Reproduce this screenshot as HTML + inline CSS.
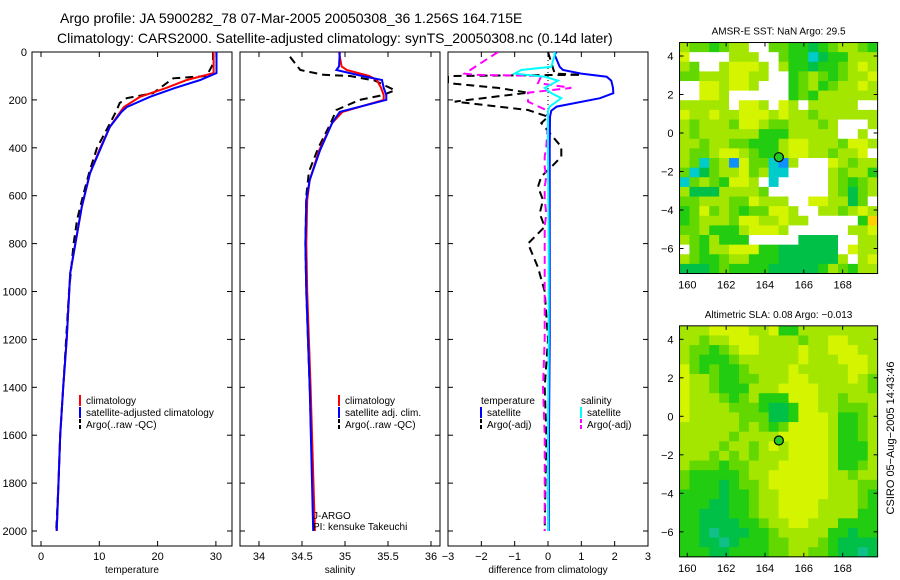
<!DOCTYPE html>
<html><head><meta charset="utf-8"><style>
html,body{margin:0;padding:0;background:#fff;width:900px;height:580px;overflow:hidden}
svg{display:block;font-family:"Liberation Sans",sans-serif}
</style></head><body>
<svg id="fig" width="900" height="580" xmlns="http://www.w3.org/2000/svg">
<text x="60" y="23" font-size="14" text-anchor="start">Argo profile: JA 5900282_78 07-Mar-2005 20050308_36 1.256S 164.715E</text>
<text x="57" y="43" font-size="14" text-anchor="start">Climatology: CARS2000. Satellite-adjusted climatology: synTS_20050308.nc (0.14d later)</text>
<g id="g"></g>
</svg>
<script>
// ---- data ----
const tDepth = [0,50,88,117,150,187,230,250,313,410,506,646,924,1200,1400,1600,1800,2000];
const tClim  = [29.6,29.6,29.6,25.0,21.5,17.0,14.2,13.6,11.8,10.0,8.4,7.0,5.0,4.4,3.8,3.3,3.0,2.7];
const tSat   = [30.1,30.1,30.1,27.3,23.0,18.7,14.7,13.8,11.8,10.1,8.4,7.0,5.0,4.4,3.8,3.3,3.0,2.7];
const aDepthT = [0,50,100,110,140,172,193,213,242,300,400,500,600,700,800,1000,1200,1400,1600,1800,2000];
const tArgo  = [29.5,29.5,28.4,22.7,21.0,19.2,14.7,13.5,13.0,11.8,9.6,8.3,7.2,6.2,5.6,4.8,4.3,3.8,3.3,3.0,2.6];

const sDepth = [0,60,75,100,117,150,180,200,250,297,410,535,618,800,1000,1400,2000];
const sClim  = [34.93,34.96,35.02,35.28,35.37,35.42,35.45,35.45,34.97,34.85,34.70,34.59,34.56,34.55,34.56,34.60,34.65];
const sSat   = [34.94,34.93,34.90,35.20,35.43,35.45,35.48,35.48,34.94,34.85,34.71,34.59,34.55,34.54,34.55,34.59,34.63];
const aDepthS = [20,75,95,100,120,160,180,200,242,300,400,500,600,800,1000,1400,2000];
const sArgo  = [34.36,34.48,34.75,35.06,35.35,35.58,35.44,35.17,34.90,34.83,34.69,34.58,34.55,34.54,34.55,34.59,34.64];

const dDepth = [0,12,62,75,90,103,120,150,172,193,228,245,270,400,800,1200,1600,2000];
const dTSat  = [0.25,0.2,0.35,0.45,1.0,1.76,1.9,1.95,1.96,1.56,0.26,0.1,0.06,0.05,0.05,0.05,0.03,0.02];
const dSSat  = [0.2,0.2,0.1,-0.8,-1.0,-0.1,0.3,-0.1,0.1,0.4,0.05,0.0,0.0,0.0,0.02,0.02,0.0,0.0];
const aDepthD = [0,90,95,100,130,150,170,207,242,270,297,396,437,480,520,563,618,674,730,800,900,1000,1200,1400,1600,2000];
const dTArgo = [0,0.2,1.0,-3.0,-3.0,-1.5,-0.6,-2.8,-0.6,0.0,-0.2,0.4,0.4,0.1,-0.2,-0.3,-0.15,-0.25,-0.1,-0.6,-0.3,-0.1,0.0,-0.1,-0.05,-0.1];
const dSArgo = [-1.5,-2.5,-2.2,-0.2,-0.3,0.7,-0.6,-0.6,-0.06,0.0,0.0,-0.05,-0.1,-0.1,-0.05,-0.1,-0.1,-0.05,-0.1,-0.1,-0.1,-0.1,-0.1,-0.15,-0.1,-0.1];

const depthTicks = [0,200,400,600,800,1000,1200,1400,1600,1800,2000];
const tTicks = [0,10,20,30];
const sTicks = [34,34.5,35,35.5,36];
const sTickLabels = ["34","34.5","35","35.5","36"];
const dTicks = [-3,-2,-1,0,1,2,3];
const dTickLabels = ["\u22123","\u22122","\u22121","0","1","2","3"];
const lonTicks = [160,162,164,166,168];
const latTicks = [4,2,0,-2,-4,-6];
const latTickLabels = ["4","2","0","\u22122","\u22124","\u22126"];
const argoLon = 164.715, argoLat = -1.256;

const sstGrid = [
"lggGgllwwggGGdGgllgG","ywwwwlllwwgGGcdGGlll","lgwwlyyylwlGGdGGglyl","gglllyyllwwGglgGglly",
"wwyylyylwwwGglGgllyl","wwyylwwwwwwGgGllllll","lllllwyylwylwlllllww","yllyllyyylyllgllllll",
"lglllgyylgglllglwwwl","lgllllllGGGlllllwwlw","llgllggGGGlyylllgyyl","lgglyylgGGlyyllgllyw",
"lgcglbyggcblwwwylgll","gcdgllyglccwwwwlgllG","cglgGyylwcwwwwwlgGgl","ldddllllgwwwwwwlgdgl",
"gglllggylllwwyylldgw","GgyglgGggyylwwllglyl","GglllgyyllyllwwwwwGo","gglGGGlyyylwwwwwwlly",
"lgGlGGGwwwwwddddwwll","wgGllyyyGGddddddwyll","lgGGgllGGGddddddlwly","dddGgGGGGdddddGlgGll"];
const slaGrid = [
"lllyyyyllyGGllllllll","llgllyyyllllgllyylll","lggGglyyllllyllyyyll","lgGGGgllllllylllyyyl",
"ygGgGGgllllylllllyyl","yllgGGgglllyyllllylg","yllgGGGlllyyyylllllg","ylllgGglGGGyyyllglll",
"yllllgggGddGyyllgggl","ylllllgggddGyyylGGgl","llllllglgGgyyyylGGgl","lllllgllllyyyyylGGgl",
"llllgllglylyyyylGGGl","lllglglglllyyyylGGGl","lgggGgglllyyyyylGGgl","gGGGGGgllyyyyyyllgll",
"gGGGdGgglyyyyyylllgg","GGGGdGGgllyyyyylllgG","GGGddGGgllyyyyllllgG","GGdddGGgllyyyyllllGG",
"GGddddGGgllyylllGGGG","GGdtdddGGglllllGGdGG","GGddtdGGGgglllgGdddd","GGGddGGGGggllggGddtd"];
const palette = {w:"#ffffff",y:"#d4f400",l:"#a4e600",g:"#62d800",G:"#22cc10",d:"#00c048",t:"#10c088",c:"#00cccc",b:"#1090ff",o:"#ffd000"};

// ---- drawing ----
const NS="http://www.w3.org/2000/svg", G=document.getElementById('g');
function el(tag,attrs,parent){const e=document.createElementNS(NS,tag);for(const k in attrs)e.setAttribute(k,attrs[k]);(parent||G).appendChild(e);return e;}
function txt(x,y,s,size,anchor,parent){const t=el('text',{x:x,y:y,'font-size':size,'text-anchor':anchor||'middle'},parent);t.textContent=s;return t;}

const Y = d => 52 + d*0.2395;
const pTop=52, pBot=546;
function panel(name,x0,x1,xs,ticks,labels,xlabel){
  const g=el('g',{});
  
  
  el('rect',{x:x0,y:pTop,width:x1-x0,height:pBot-pTop,fill:'none',stroke:'#000','stroke-width':1},g);
  ticks.forEach((v,i)=>{const x=xs(v);
    el('line',{x1:x,x2:x,y1:pBot,y2:pBot-5,stroke:'#000'},g);
    el('line',{x1:x,x2:x,y1:pTop,y2:pTop+5,stroke:'#000'},g);
    const t=txt(x,560,labels[i],11,'middle',g);
    
    });
  depthTicks.forEach(d=>{el('line',{x1:x0,x2:x0+5,y1:Y(d),y2:Y(d),stroke:'#000'},g);
    el('line',{x1:x1,x2:x1-5,y1:Y(d),y2:Y(d),stroke:'#000'},g);});
  const xl=txt((x0+x1)/2,573,xlabel,10,'middle',g);
  
  
  return g;
}
function line(xs,vals,depths,color,dash,name,g){
  const pts=vals.map((v,i)=>xs(v).toFixed(1)+','+Y(depths[i]).toFixed(1)).join(' ');
  const p=el('polyline',{points:pts,fill:'none',stroke:color,'stroke-width':2,'stroke-dasharray':dash||'none'},g);
  
  
}
function clipFor(id,x0,x1){const c=el('clipPath',{id:id});el('rect',{x:x0,y:pTop,width:x1-x0,height:pBot-pTop},c);return 'url(#'+id+')';}

depthTicks.forEach(d=>{const t=txt(27,Y(d)+4,String(d),11,'end');
  
  });

// Panel 1
const xT=v=>41+v*5.83;
const p1=panel('temperature-panel',32,232,xT,tTicks,tTicks.map(String),'temperature');
const g1=el('g',{'clip-path':clipFor('c1',32,232)},p1);
line(xT,tArgo,aDepthT,'#000','8,5','argo-temperature-line',g1);
line(xT,tClim,tDepth,'#f00',null,'climatology-temperature-line',g1);
line(xT,tSat,tDepth,'#00f',null,'satellite-temperature-line',g1);

// Panel 2
const xS=v=>259+(v-34)*86;
const p2=panel('salinity-panel',240,440,xS,sTicks,sTickLabels,'salinity');
const g2=el('g',{'clip-path':clipFor('c2',240,440)},p2);
line(xS,sArgo,aDepthS,'#000','8,5','argo-salinity-line',g2);
line(xS,sClim,sDepth,'#f00',null,'climatology-salinity-line',g2);
line(xS,sSat,sDepth,'#00f',null,'satellite-salinity-line',g2);

// Panel 3
const xD=v=>548+v*33.33;
const p3=panel('difference-panel',448,648,xD,dTicks,dTickLabels,'difference from climatology');
const g3=el('g',{'clip-path':clipFor('c3',448,648)},p3);
el('line',{x1:548,x2:548,y1:pTop,y2:120,stroke:'#000','stroke-dasharray':'1,3'},g3);
line(xD,dTArgo,aDepthD,'#000','8,5','argo-temperature-diff-line',g3);
line(xD,dSArgo,aDepthD,'#f0f','8,5','argo-salinity-diff-line',g3);
line(xD,dTSat,dDepth,'#00f',null,'satellite-temperature-diff-line',g3);
line(xD,dSSat,dDepth,'#0ff',null,'satellite-salinity-diff-line',g3);

function legend(x,y,items,name){const g=el('g',{});
  
  
  items.forEach((it,i)=>{const yy=y+i*12;
    if(it[1]) el('line',{x1:x,x2:x,y1:yy-9,y2:yy+2,stroke:it[1],'stroke-width':2,'stroke-dasharray':it[2]?'4,2':'none'},g);
    txt(x+(it[1]?6:0),yy,it[0],10,'start',g);});}
legend(80,404,[["climatology","#f00"],["satellite-adjusted climatology","#00f"],["Argo(..raw -QC)","#000",1]],'temperature-legend');
legend(339,404,[["climatology","#f00"],["satellite adj. clim.","#00f"],["Argo(..raw -QC)","#000",1]],'salinity-legend');
legend(481,404,[["temperature",null],["satellite","#00f"],["Argo(-adj)","#000",1]],'temp-diff-legend');
legend(581,404,[["salinity",null],["satellite","#0ff"],["Argo(-adj)","#f0f",1]],'sal-diff-legend');
const pi=el('g',{});


txt(313,519,'J-ARGO',10,'start',pi); txt(313,530,'PI: kensuke Takeuchi',10,'start',pi);

function drawMap(name,grid,title,lat4y){
  const g=el('g',{});
  
  
  const lx=v=>687.3+(v-160)*19.42, ly=v=>lat4y-(v-4)*19.25;
  const x0=lx(159.6), x1=lx(169.8), y0=ly(4.7), y1=ly(-7.3);
  const rows=grid.length, cols=grid[0].length, cw=(x1-x0)/cols, ch=(y1-y0)/rows;
  grid.forEach((r,i)=>{for(let j=0;j<cols;j++){
    const c=el('rect',{x:(x0+j*cw).toFixed(2),y:(y0+i*ch).toFixed(2),width:(cw+0.4).toFixed(2),height:(ch+0.4).toFixed(2),fill:palette[r[j]]},g);
    
    }});
  el('rect',{x:x0,y:y0,width:x1-x0,height:y1-y0,fill:'none',stroke:'#000'},g);
  lonTicks.forEach(v=>{const x=lx(v);el('line',{x1:x,x2:x,y1:y1,y2:y1-4,stroke:'#000'},g);el('line',{x1:x,x2:x,y1:y0,y2:y0+4,stroke:'#000'},g);
    txt(x,y1+15,String(v),11,'middle',g);});
  latTicks.forEach((v,i)=>{const y=ly(v);el('line',{x1:x0,x2:x0+4,y1:y,y2:y,stroke:'#000'},g);el('line',{x1:x1,x2:x1-4,y1:y,y2:y,stroke:'#000'},g);
    txt(x0-6,y+4,latTickLabels[i],11,'end',g);});
  txt((x0+x1)/2,y0-8,title,10,'middle',g);
  const dot=el('circle',{cx:lx(argoLon),cy:ly(argoLat),r:4.5,fill:'#22cc22',stroke:'#000','stroke-width':1.2},g);
  
  
}
drawMap('sst-map',sstGrid,'AMSR-E SST: NaN Argo: 29.5',56);
drawMap('sla-map',slaGrid,'Altimetric SLA: 0.08 Argo: \u22120.013',339.3);
const cs=el('text',{x:0,y:0,'font-size':11,'text-anchor':'middle',transform:'translate(894,438) rotate(-90)'});
cs.textContent='CSIRO 05\u2212Aug\u22122005 14:43:46';


</script>
</body></html>
